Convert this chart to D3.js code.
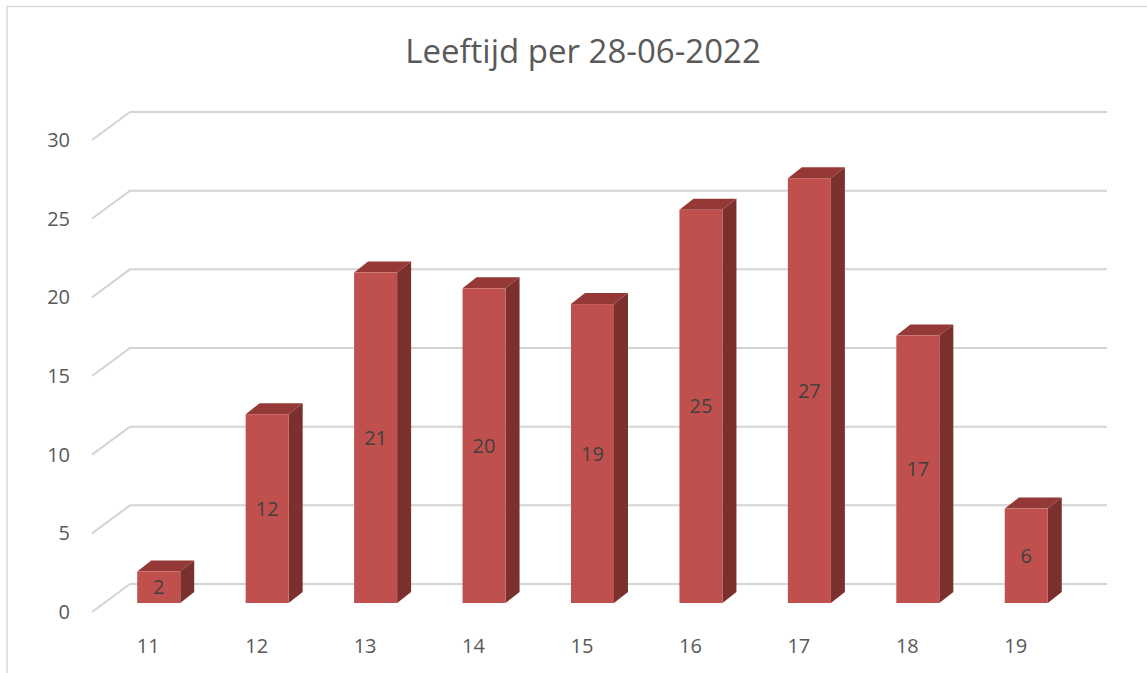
<!DOCTYPE html>
<html>
<head>
<meta charset="utf-8">
<script src="https://cdn.jsdelivr.net/npm/d3@7"></script>
<style>
body { margin: 0; background: #fff; }
text { font-family: "Open Sans", "Liberation Sans", sans-serif; fill: #595959; }
</style>
</head>
<body>
<div id="chart"></div>
<script>
var title = "Leeftijd per 28-06-2022"
var ages = ["11", "12", "13", "14", "15", "16", "17", "18", "19"]
var counts = [2, 12, 21, 20, 19, 25, 27, 17, 6]
var yTicks = [0, 5, 10, 15, 20, 25, 30]

var W = 1147, H = 673
var svg = d3.select("#chart")
    .append("svg")
    .attr("width", W)
    .attr("height", H)

// chart frame
svg.append("path")
    .attr("d", "M7," + H + " V6.5 H" + W)
    .attr("fill", "none")
    .attr("stroke", "#d9d9d9")
    .attr("stroke-width", 1.5)

// depth offsets for the fake 3d
var depthX = 38, depthY = -28
var barDX = 14, barDY = -11

var x = d3.scaleBand()
    .domain(ages)
    .range([94, 1070])

var yFront = d3.scaleLinear().domain([0, 30]).range([612, 140])
var yBack = d3.scaleLinear().domain([0, 30]).range([612 + depthY, 140 + depthY])
var yBar = d3.scaleLinear().domain([0, 30]).range([603, 131])

// gridlines: diagonal on side wall + back wall line
svg.append("g")
    .selectAll("path")
    .data(yTicks)
    .enter()
    .append("path")
    .attr("d", d => "M92," + yFront(d) + " L" + (92 + depthX) + "," + yBack(d) + " H1107")
    .attr("fill", "none")
    .attr("stroke", "#d4d4d4")
    .attr("stroke-width", 2)

// y tick labels
svg.append("g")
    .selectAll("text")
    .data(yTicks)
    .enter()
    .append("text")
    .text(d => d)
    .attr("x", 70)
    .attr("y", d => yFront(d))
    .attr("dy", "0.35em")
    .attr("text-anchor", "end")
    .style("font-size", "20px")

var barW = 43
var bars = svg.append("g")
    .selectAll("g")
    .data(counts)
    .enter()
    .append("g")

function bx(i) { return x(ages[i]) + x.bandwidth() / 2 + 10.5 - barW / 2 }

// top face
bars.append("path")
    .attr("d", (d, i) => {
        var x0 = bx(i), y0 = yBar(d)
        return "M" + x0 + "," + y0 + " L" + (x0 + barDX) + "," + (y0 + barDY) +
            " H" + (x0 + barW + barDX) + " L" + (x0 + barW) + "," + y0 + "Z"
    })
    .attr("fill", "#953937")

// side face
bars.append("path")
    .attr("d", (d, i) => {
        var x1 = bx(i) + barW, y0 = yBar(d), y1 = yBar(0)
        return "M" + x1 + "," + y0 + " L" + (x1 + barDX) + "," + (y0 + barDY) +
            " V" + (y1 + barDY) + " L" + x1 + "," + y1 + "Z"
    })
    .attr("fill", "#7c302e")

// front face
bars.append("rect")
    .attr("x", (d, i) => bx(i))
    .attr("y", d => yBar(d))
    .attr("width", barW)
    .attr("height", d => yBar(0) - yBar(d))
    .attr("fill", "#c0504d")

// data labels
bars.append("text")
    .text(d => d)
    .attr("x", (d, i) => bx(i) + barW / 2)
    .attr("y", d => (yBar(d) + yBar(0)) / 2)
    .attr("dy", "0.35em")
    .attr("text-anchor", "middle")
    .style("font-size", "20px")
    .style("fill", "#404040")

// category labels
svg.append("g")
    .selectAll("text")
    .data(ages)
    .enter()
    .append("text")
    .text(d => d)
    .attr("x", d => x(d) + x.bandwidth() / 2)
    .attr("y", 646)
    .attr("dy", "0.35em")
    .attr("text-anchor", "middle")
    .style("font-size", "20px")

svg.append("text")
    .text(title)
    .attr("x", 583)
    .attr("y", 63)
    .attr("text-anchor", "middle")
    .style("font-size", "33px")
</script>
</body>
</html>
